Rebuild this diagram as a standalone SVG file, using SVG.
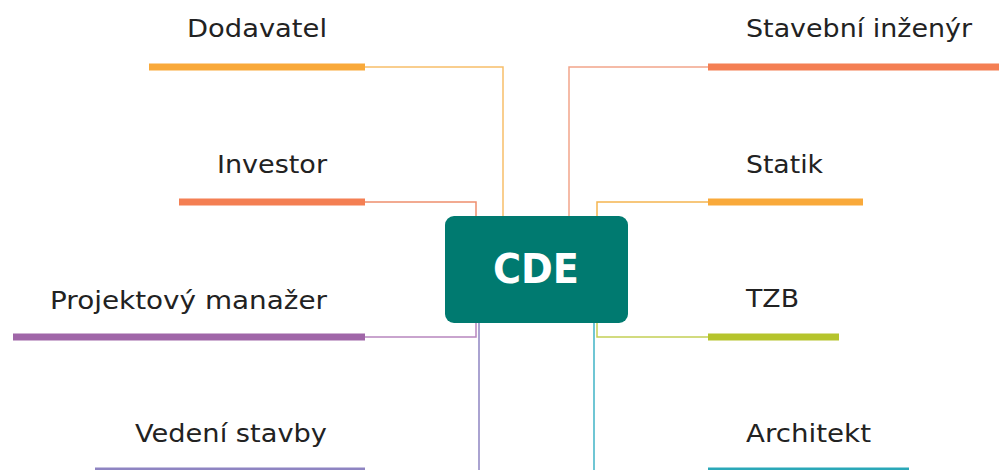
<svg xmlns="http://www.w3.org/2000/svg" width="999" height="470" viewBox="0 0 999 470">
<style>
.lbl{font-family:"DejaVu Sans","Open Sans",sans-serif;font-size:25px;fill:#222;}
.l{text-anchor:end;}
.bar{stroke-width:7;fill:none;}
.con{stroke-width:1.5;fill:none;}
</style>
<rect width="999" height="470" fill="#fff"/>
<g id="connectors">
<polyline class="con" points="365,67 503,67 503,216" stroke="#F7BE6A"/>
<polyline class="con" points="365,202 476,202 476,216" stroke="#EE8E6E"/>
<polyline class="con" points="708,67 569,67 569,216" stroke="#F2A58A"/>
<polyline class="con" points="708,202 597,202 597,216" stroke="#F5B550"/>
<polyline class="con" points="365,337 476,337 476,323" stroke="#B886BE"/>
<polyline class="con" points="479,323 479,470" stroke="#8E84C2"/>
<polyline class="con" points="708,337 597,337 597,323" stroke="#C3CF55"/>
<polyline class="con" points="594,323 594,470" stroke="#3FB3C6"/>
</g>
<g id="cde">
<rect x="445" y="216" width="183" height="107" rx="9" fill="#007A70"/>
<text x="493" y="283" textLength="86" lengthAdjust="spacingAndGlyphs" style="font-family:'DejaVu Sans','Open Sans',sans-serif;font-size:41px;font-weight:bold;fill:#fff;">CDE</text>
</g>
<g id="dodavatel">
<line class="bar" x1="149" y1="67" x2="365" y2="67" stroke="#F9A93A"/>
<text class="lbl" x="187" y="37" textLength="140" lengthAdjust="spacingAndGlyphs">Dodavatel</text>
</g>
<g id="investor">
<line class="bar" x1="179" y1="202" x2="365" y2="202" stroke="#F47F53"/>
<text class="lbl" x="217" y="173" textLength="110" lengthAdjust="spacingAndGlyphs">Investor</text>
</g>
<g id="projektovy-manazer">
<line class="bar" x1="13" y1="337" x2="365" y2="337" stroke="#A066A8"/>
<text class="lbl" x="50" y="309" textLength="277" lengthAdjust="spacingAndGlyphs">Projektový manažer</text>
</g>
<g id="vedeni-stavby">
<line class="bar" x1="95" y1="471" x2="365" y2="471" stroke="#8E84C2"/>
<text class="lbl" x="135" y="442" textLength="192" lengthAdjust="spacingAndGlyphs">Vedení stavby</text>
</g>
<g id="stavebni-inzenyr">
<line class="bar" x1="708" y1="67" x2="999" y2="67" stroke="#F47F53"/>
<text class="lbl" x="746" y="37" textLength="226" lengthAdjust="spacingAndGlyphs">Stavební inženýr</text>
</g>
<g id="statik">
<line class="bar" x1="708" y1="202" x2="863" y2="202" stroke="#F9A93A"/>
<text class="lbl" x="746" y="173" textLength="77" lengthAdjust="spacingAndGlyphs">Statik</text>
</g>
<g id="tzb">
<line class="bar" x1="708" y1="337" x2="839" y2="337" stroke="#B5C42C"/>
<text class="lbl" x="746" y="307" textLength="53" lengthAdjust="spacingAndGlyphs">TZB</text>
</g>
<g id="architekt">
<line class="bar" x1="708" y1="471" x2="909" y2="471" stroke="#2AA8B8"/>
<text class="lbl" x="746" y="442" textLength="125" lengthAdjust="spacingAndGlyphs">Architekt</text>
</g>
</svg>
